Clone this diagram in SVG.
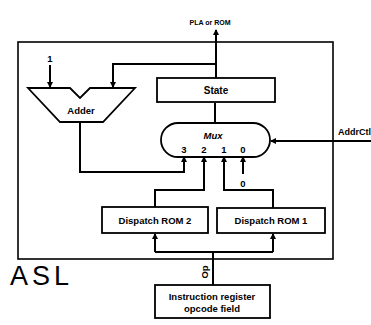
<svg xmlns="http://www.w3.org/2000/svg" width="371" height="325" viewBox="0 0 371 325">
<style>
.box{fill:#fff;stroke:#000;stroke-width:1.8}
.ln{fill:none;stroke:#000;stroke-width:2}
.fr{fill:none;stroke:#000;stroke-width:1.6}
.t{font-family:"Liberation Sans",Arial,sans-serif;font-weight:bold;font-size:9.5px;fill:#000;text-anchor:middle;dominant-baseline:central}
.h{font-family:"Liberation Sans",Arial,sans-serif;font-size:27px;fill:#000;letter-spacing:4px}
</style>
<defs>
<marker id="ah" viewBox="0 0 6 6" refX="5" refY="3" markerWidth="6" markerHeight="6" markerUnits="userSpaceOnUse" orient="auto">
<path d="M0,0 L6,3 L0,6 z" fill="#000"/>
</marker>
</defs>
<rect width="371" height="325" fill="#fff"/>
<g id="frame">
<rect class="fr" x="18" y="42" width="315" height="217"/>
</g>
<g id="connectors">
<path class="ln" d="M216,78 V30" marker-end="url(#ah)"/>
<path class="ln" d="M216,64 H113 V87" marker-end="url(#ah)"/>
<path class="ln" d="M50,65 V87" marker-end="url(#ah)"/>
<path class="ln" d="M80,122 V172 H184 V157" marker-end="url(#ah)"/>
<path class="ln" d="M155,207 V190 H204 V157" marker-end="url(#ah)"/>
<path class="ln" d="M273,208 V190 H224 V157" marker-end="url(#ah)"/>
<path class="ln" d="M243,174 V157" marker-end="url(#ah)"/>
<path class="ln" d="M371,141 H271" marker-end="url(#ah)"/>
<path class="ln" d="M215,123 V103"/>
<path class="ln" d="M213,285 V252"/>
<path class="ln" d="M155,252 H273"/>
<path class="ln" d="M155,252 V234" marker-end="url(#ah)"/>
<path class="ln" d="M273,252 V234" marker-end="url(#ah)"/>
</g>
<g id="pla"><text class="t" x="210" y="22" style="font-size:7px">PLA or ROM</text></g>
<g id="one"><text class="t" x="50" y="58">1</text></g>
<g id="adder">
<polygon class="box" points="28,88 70,88 80,98 90,88 135,88 103,122 60,122"/>
<text class="t" x="81" y="110">Adder</text>
</g>
<g id="state">
<rect class="box" x="157" y="78" width="118" height="24"/>
<text class="t" x="216" y="90" style="font-size:10px">State</text>
</g>
<g id="mux">
<rect class="box" x="161" y="123" width="109" height="34" rx="17" ry="17"/>
<text class="t" x="213" y="135" style="font-style:italic">Mux</text>
<text class="t" x="184" y="149">3</text>
<text class="t" x="204" y="149">2</text>
<text class="t" x="224" y="149">1</text>
<text class="t" x="243" y="149">0</text>
</g>
<g id="zero"><text class="t" x="243" y="183">0</text></g>
<g id="addrctl"><text class="t" x="338" y="132" style="text-anchor:start;font-size:9px">AddrCtl</text></g>
<g id="dr2">
<rect class="box" x="102" y="207" width="106" height="26"/>
<text class="t" x="155" y="220">Dispatch ROM 2</text>
</g>
<g id="dr1">
<rect class="box" x="217" y="208" width="108" height="25"/>
<text class="t" x="271" y="220">Dispatch ROM 1</text>
</g>
<g id="op"><text class="t" x="0" y="0" transform="translate(204,272) rotate(-90)">Op</text></g>
<g id="ir">
<rect class="box" x="155" y="285" width="115" height="33"/>
<text class="t" x="212" y="296">Instruction register</text>
<text class="t" x="212" y="308">opcode field</text>
</g>
<g id="asl"><text class="h" x="10" y="285">ASL</text></g>
</svg>
